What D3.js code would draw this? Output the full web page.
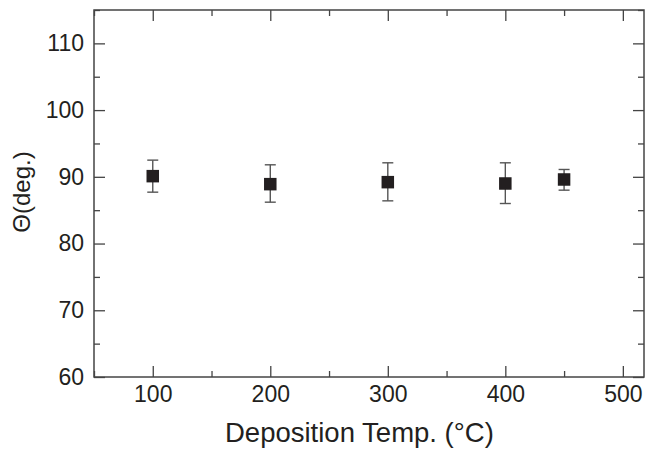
<!DOCTYPE html>
<html>
<head>
<meta charset="utf-8">
<script src="https://cdn.jsdelivr.net/npm/d3@7"></script>
<style>
  body { margin: 0; background: #fff; }
  svg text { font-family: "Liberation Sans", Arial, sans-serif; fill: #231f20; }
</style>
</head>
<body>
<div id="chart"></div>
<script>
// data
const temps = [100, 200, 300, 400, 450];
const theta = [90.1, 88.9, 89.2, 89.0, 89.6];
const errLow = [87.7, 86.2, 86.4, 86.0, 88.0];
const errHigh = [92.5, 91.8, 92.1, 92.1, 91.1];
const xTicks = [100, 200, 300, 400, 500];
const yTicks = [60, 70, 80, 90, 100, 110];

const svgWidth = 646, svgHeight = 450;
const margin = { top: 10, right: 2, bottom: 73, left: 94 };
const width = svgWidth - margin.left - margin.right;
const height = svgHeight - margin.top - margin.bottom;

const svg = d3.select("#chart").append("svg")
    .attr("width", svgWidth)
    .attr("height", svgHeight);
const g = svg.append("g").attr("transform", `translate(${margin.left},${margin.top})`);

const x = d3.scaleLinear().domain([50, 518]).range([0, width]);
const y = d3.scaleLinear().domain([60, 115]).range([height, 0]);

const axisColor = "#444";
const minorX = d3.range(50, 519, 50).filter(v => !xTicks.includes(v));
const minorY = d3.range(60, 116, 5).filter(v => !yTicks.includes(v));

// frame
g.append("rect").attr("width", width).attr("height", height)
    .attr("fill", "none").attr("stroke", axisColor).attr("stroke-width", 1.5);

function styleAxis(sel) {
    sel.select(".domain").remove();
    sel.selectAll(".tick line").attr("stroke", axisColor).attr("stroke-width", 1.3);
}

// bottom axis with labels (ticks pointing inward)
g.append("g").attr("transform", `translate(0,${height})`)
    .call(d3.axisBottom(x).tickValues(xTicks).tickSize(-11).tickPadding(9).tickFormat(d3.format("d")))
    .call(styleAxis)
    .selectAll("text").attr("font-size", 23).attr("fill", "#231f20");
g.append("g").attr("transform", `translate(0,${height})`)
    .call(d3.axisBottom(x).tickValues(minorX).tickSize(-6).tickFormat(""))
    .call(styleAxis);
// top axis
g.append("g")
    .call(d3.axisTop(x).tickValues(xTicks).tickSize(-11).tickFormat(""))
    .call(styleAxis);
g.append("g")
    .call(d3.axisTop(x).tickValues(minorX).tickSize(-6).tickFormat(""))
    .call(styleAxis);

// left axis
g.append("g")
    .call(d3.axisLeft(y).tickValues(yTicks).tickSize(-11).tickPadding(10))
    .call(styleAxis)
    .selectAll("text").attr("font-size", 23).attr("fill", "#231f20");
g.append("g")
    .call(d3.axisLeft(y).tickValues(minorY).tickSize(-6).tickFormat(""))
    .call(styleAxis);
// right axis
g.append("g").attr("transform", `translate(${width},0)`)
    .call(d3.axisRight(y).tickValues(yTicks).tickSize(-11).tickFormat(""))
    .call(styleAxis);
g.append("g").attr("transform", `translate(${width},0)`)
    .call(d3.axisRight(y).tickValues(minorY).tickSize(-6).tickFormat(""))
    .call(styleAxis);

// error bars
const pts = temps.map((t, i) => ({ t, v: theta[i], lo: errLow[i], hi: errHigh[i] }));
const cap = 5.5;
const eb = g.selectAll(".err").data(pts).enter().append("g").attr("class", "err")
    .attr("stroke", "#555").attr("stroke-width", 1.4);
eb.append("line").attr("x1", d => x(d.t)).attr("x2", d => x(d.t))
    .attr("y1", d => y(d.hi)).attr("y2", d => y(d.lo));
eb.append("line").attr("x1", d => x(d.t) - cap).attr("x2", d => x(d.t) + cap)
    .attr("y1", d => y(d.hi)).attr("y2", d => y(d.hi));
eb.append("line").attr("x1", d => x(d.t) - cap).attr("x2", d => x(d.t) + cap)
    .attr("y1", d => y(d.lo)).attr("y2", d => y(d.lo));

// square markers
const s = 12.5;
g.selectAll(".pt").data(pts).enter().append("rect").attr("class", "pt")
    .attr("x", d => x(d.t) - s / 2).attr("y", d => y(d.v) - s / 2)
    .attr("width", s).attr("height", s).attr("fill", "#231f20");

// axis titles
svg.append("text")
    .attr("x", 225).attr("y", 442)
    .attr("font-size", 27.5)
    .text("Deposition Temp. (°C)");
svg.append("text")
    .attr("transform", `translate(30,192) rotate(-90)`)
    .attr("text-anchor", "middle").attr("font-size", 24)
    .text("Θ(deg.)");
</script>
</body>
</html>
